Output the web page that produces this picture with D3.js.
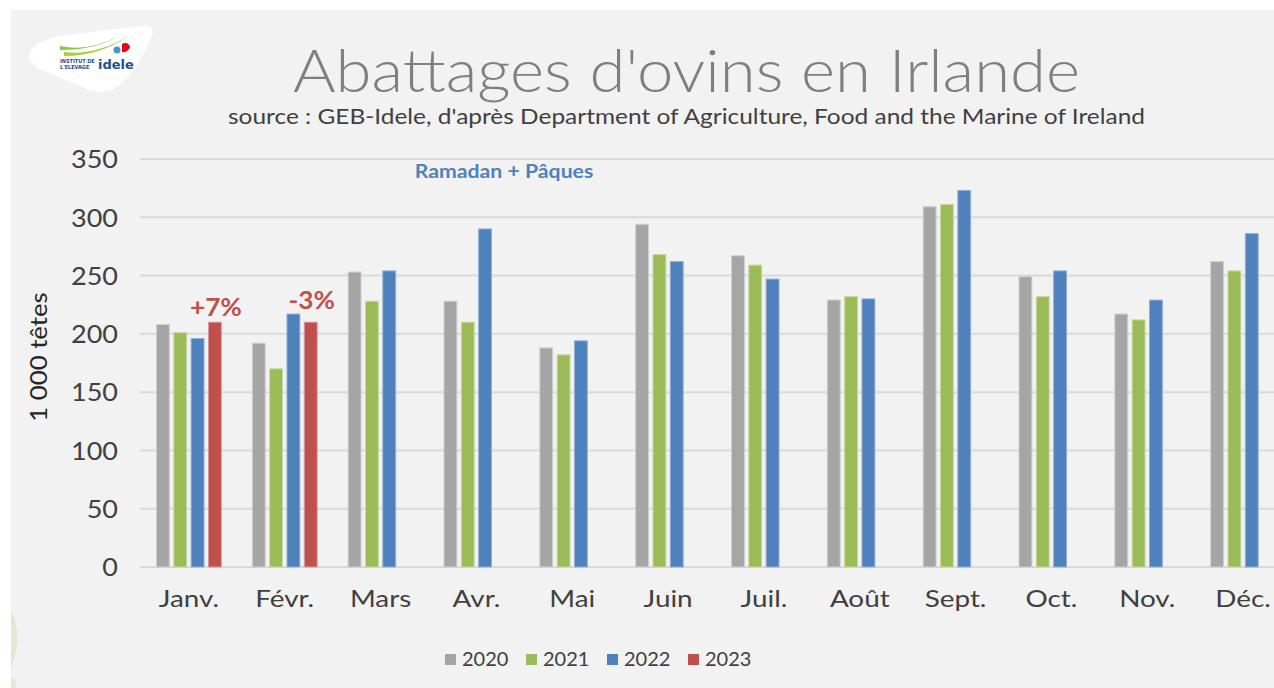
<!DOCTYPE html>
<html><head><meta charset="utf-8">
<script src="https://cdn.jsdelivr.net/npm/d3@7"></script>
<style>
html,body{margin:0;padding:0;background:#fff;overflow:hidden}
svg{display:block}
</style></head>
<body>
<script>
const months = ["Janv.","Févr.","Mars","Avr.","Mai","Juin","Juil.","Août","Sept.","Oct.","Nov.","Déc."];
const seriesNames = ["2020","2021","2022","2023"];
const v2020 = [208,192,253,228,188,294,267,229,309,249,217,262];
const v2021 = [201,170,228,210,182,268,259,232,311,232,212,254];
const v2022 = [196,217,254,290,194,262,247,230,323,254,229,286];
const v2023 = [210,210,null,null,null,null,null,null,null,null,null,null];
const yTicks = [0,50,100,150,200,250,300,350];
const colors = ["#a5a5a5","#9bbb59","#4f81bd","#c0504d"];
const strokes = ["#cfcfcf","#c6dba0","#8fb0d9","#dd9a98"];
const annotations = [{month:"Janv.", series:"2023", text:"+7%"},{month:"Févr.", series:"2023", text:"-3%"}];
const title = "Abattages d'ovins en Irlande";
const subtitle = "source : GEB-Idele, d'après Department of Agriculture, Food and the Marine of Ireland";
const yLabel = "1 000 têtes";
const noteText = "Ramadan + Pâques";

const allValues = [v2020, v2021, v2022, v2023];
const W = 1274, H = 688;
const svg = d3.select("body").append("svg").attr("width", W).attr("height", H);
const font = "'Century Gothic','URW Gothic','Lato','DejaVu Sans',sans-serif";

function widen(sel, f){
  sel.each(function(){
    const w = this.getComputedTextLength();
    d3.select(this).attr("textLength", w*f).attr("lengthAdjust","spacingAndGlyphs");
  });
}

// background
svg.append("rect").attr("x",0).attr("y",0).attr("width",W).attr("height",H).attr("fill","#fff");
svg.append("rect").attr("x",11).attr("y",10).attr("width",W-11).attr("height",H-10).attr("fill","#f2f2f2");

// faint decoration bottom-left
svg.append("path").attr("d","M11,612 Q22,630 14,660 Q11,668 11,672 Z").attr("fill","#e3e8d2");
svg.append("path").attr("d","M11,676 Q18,680 16,688 L11,688 Z").attr("fill","#e6ead8");

// logo
const logo = svg.append("g");
logo.append("path").attr("d","M30,53 Q33,42 60,36 L140,26 Q157,24 151,38 Q138,70 118,86 Q108,94 92,91 L46,72 Q27,64 30,53 Z").attr("fill","#ffffff");
logo.append("path").attr("d","M60,46 Q90,52 118,36 Q96,50 60,50 Z").attr("fill","#8dc63f");
logo.append("path").attr("d","M64,52 Q96,56 128,36 Q100,56 64,56 Z").attr("fill","#a6ce39");
logo.append("path").attr("d","M122,44 Q128,41 130,47 Q128,53 122,52 Z").attr("fill","#e30613");
logo.append("circle").attr("cx",117).attr("cy",50).attr("r",3.5).attr("fill","#4d8fcf");
logo.append("text").attr("x",60).attr("y",63).attr("font-family","'DejaVu Sans Condensed',sans-serif").attr("font-size",5.5).attr("font-weight","bold").attr("fill","#1d4f91").text("INSTITUT DE");
logo.append("text").attr("x",60).attr("y",69).attr("font-family","'DejaVu Sans Condensed',sans-serif").attr("font-size",5.5).attr("font-weight","bold").attr("fill","#1d4f91").text("L'ELEVAGE");
logo.append("text").attr("x",98).attr("y",69).attr("font-family","'DejaVu Sans',sans-serif").attr("font-size",13).attr("font-weight","bold").attr("fill","#1d4f91").text("idele");

// titles
svg.append("text").attr("x",293).attr("y",92).attr("font-family",font).attr("font-size",60).attr("font-weight",300).attr("fill","#7f7f7f")
  .attr("textLength",787).attr("lengthAdjust","spacingAndGlyphs").text(title);
svg.append("text").attr("x",228).attr("y",124).attr("font-family",font).attr("font-size",21).attr("fill","#404040")
  .attr("textLength",917).attr("lengthAdjust","spacingAndGlyphs").text(subtitle);

// scales
const x0 = d3.scaleBand().domain(months).range([142, 1290]).paddingInner(0.313).paddingOuter(0.146);
const x1 = d3.scaleBand().domain(seriesNames).range([0, x0.bandwidth()]).paddingInner(0.2);
const y = d3.scaleLinear().domain([0,350]).range([567,159]);

// gridlines
svg.append("g").selectAll("line").data(yTicks).join("line")
  .attr("x1",140).attr("x2",W).attr("y1",d=>y(d)).attr("y2",d=>y(d))
  .attr("stroke","#d9d9d9").attr("stroke-width",2);

// y axis labels
const yAxis = svg.append("g").attr("transform","translate(118,0)")
  .call(d3.axisLeft(y).tickValues(yTicks).tickSize(0).tickPadding(0));
yAxis.select(".domain").remove();
yAxis.selectAll("text").attr("font-family",font).attr("font-size",25).attr("fill","#404040").attr("dy","0.35em");
widen(yAxis.selectAll("text"), 1.08);

// y label
const yl = svg.append("text").attr("transform","translate(47,357) rotate(-90)").attr("text-anchor","middle")
  .attr("font-family",font).attr("font-size",23).attr("fill","#262626").text(yLabel);
widen(yl, 1.12);

// x axis labels
const xAxis = svg.append("g").attr("transform","translate(0,588)")
  .call(d3.axisBottom(x0).tickSize(0).tickPadding(0));
xAxis.select(".domain").remove();
xAxis.selectAll("text").attr("font-family",font).attr("font-size",24).attr("fill","#404040").attr("dy","0.8em");
widen(xAxis.selectAll("text"), 1.16);

// bars
const barData = [];
months.forEach((m,i)=>{
  seriesNames.forEach((s,j)=>{
    const v = allValues[j][i];
    if (v !== null && v !== undefined) barData.push({m, s, j, v});
  });
});
svg.append("g").selectAll("rect").data(barData).join("rect")
  .attr("x", d=>x0(d.m)+x1(d.s)+0.5)
  .attr("y", d=>y(d.v))
  .attr("width", x1.bandwidth()-1)
  .attr("height", d=>y(0)-y(d.v))
  .attr("fill", d=>colors[d.j])
  .attr("stroke", d=>strokes[d.j]).attr("stroke-width",1);

// annotations
const annOffsets = [6, 13];
annotations.forEach((a,k)=>{
  const i = months.indexOf(a.month), j = seriesNames.indexOf(a.series);
  const cx = x0(a.month)+x1(a.series)+x1.bandwidth()/2;
  const t = svg.append("text").attr("x", cx + 1).attr("y", y(allValues[j][i]) - annOffsets[k])
    .attr("text-anchor","middle").attr("font-family",font).attr("font-size",25).attr("font-weight","bold")
    .attr("fill","#c0504d").text(a.text);
  widen(t, 1.05);
});

const nt = svg.append("text").attr("x",504).attr("y",178).attr("text-anchor","middle").attr("font-family",font)
  .attr("font-size",18).attr("font-weight","bold").attr("fill","#4f81bd").text(noteText);
widen(nt, 1.18);

// legend
const leg = svg.append("g");
const legX = [445, 526, 607, 688];
seriesNames.forEach((s,j)=>{
  leg.append("rect").attr("x",legX[j]).attr("y",654).attr("width",11).attr("height",11).attr("fill",colors[j]);
  leg.append("text").attr("x",legX[j]+17).attr("y",666).attr("font-family",font).attr("font-size",20).attr("fill","#404040").text(s);
});
</script>
</body></html>
